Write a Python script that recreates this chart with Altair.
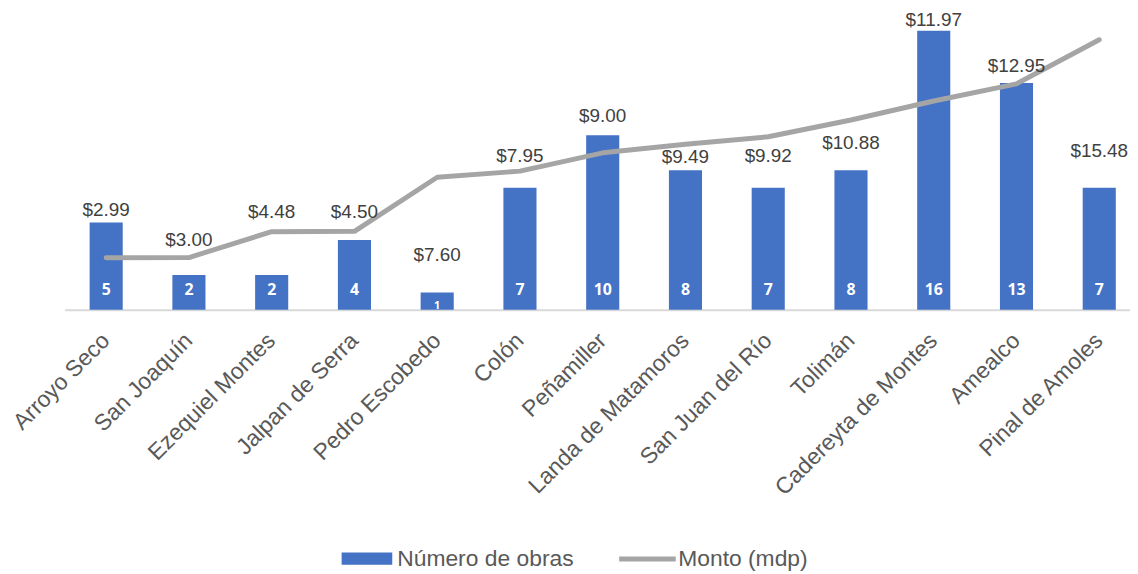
import altair as alt
import pandas as pd

municipios = ["Arroyo Seco", "San Joaquín", "Ezequiel Montes", "Jalpan de Serra",
              "Pedro Escobedo", "Colón", "Peñamiller", "Landa de Matamoros",
              "San Juan del Río", "Tolimán", "Cadereyta de Montes", "Amealco",
              "Pinal de Amoles"]
obras = [5, 2, 2, 4, 1, 7, 10, 8, 7, 8, 16, 13, 7]
monto = [2.99, 3.00, 4.48, 4.50, 7.60, 7.95, 9.00, 9.49, 9.92, 10.88, 11.97, 12.95, 15.48]
# height (in chart units) at which each amount label sits in the original
nivel_etiqueta = [5.72, 3.98, 5.61, 5.63, 3.13, 8.82, 11.10, 8.76, 8.82, 9.56, 16.6, 13.95, 9.11]

df = pd.DataFrame({
    "municipio": municipios,
    "obras": obras,
    "monto": monto,
    "nivel": nivel_etiqueta,
    "serie_b": "Número de obras",
    "serie_l": "Monto (mdp)",
})

FONT = "Liberation Sans"
x = alt.X("municipio:N", sort=municipios,
          scale=alt.Scale(paddingInner=0.6, paddingOuter=0.237, align=0.638),
          axis=alt.Axis(title=None, labelAngle=-45, labelAlign="right",
                        labelBaseline="middle", labelFontSize=23, labelFont=FONT,
                        labelColor="#595959", ticks=False, domainColor="#D9D9D9",
                        domainWidth=2, labelPadding=27, labelLimit=500))
yscale = alt.Scale(domain=[0, 16.9], nice=False, zero=True)

base = alt.Chart(df)

bars = base.mark_bar().encode(
    x=x,
    y=alt.Y("obras:Q", scale=yscale, axis=None),
    color=alt.Color("serie_b:N",
                    scale=alt.Scale(domain=["Número de obras"], range=["#4472C4"]),
                    legend=alt.Legend(orient="none", legendX=279, legendY=522,
                                      title=None, padding=0,
                                      symbolType="M-1,-0.24L1,-0.24L1,0.24L-1,0.24Z",
                                      symbolSize=2601, symbolStrokeWidth=0,
                                      symbolFillColor="#4472C4", symbolOpacity=1,
                                      labelFontSize=23, labelFont=FONT,
                                      labelColor="#595959", labelOffset=5,
                                      labelLimit=400)),
)

line = base.mark_line(strokeWidth=5, strokeCap="round", strokeJoin="round").encode(
    x=x,
    y=alt.Y("monto:Q", scale=yscale, axis=None),
    stroke=alt.Stroke("serie_l:N",
                      scale=alt.Scale(domain=["Monto (mdp)"], range=["#A5A5A5"]),
                      legend=alt.Legend(orient="none", legendX=556, legendY=517,
                                        title=None, padding=0,
                                        symbolType="stroke", symbolSize=3249,
                                        symbolStrokeWidth=5,
                                        labelFontSize=23, labelFont=FONT,
                                        labelColor="#595959", labelOffset=0,
                                        labelLimit=400)),
)

labels = base.mark_text(font=FONT, fontSize=19, color="#404040",
                        baseline="middle").encode(
    x=x,
    y=alt.Y("nivel:Q", scale=yscale, axis=None),
    text=alt.Text("monto:Q", format="$.2f"),
)

counts = base.transform_filter("datum.obras >= 2").mark_text(
    font="Open Sans", fontWeight="bold", color="white", fontSize=16,
    baseline="alphabetic", dy=-15).encode(
    x=x,
    y=alt.datum(0, scale=yscale),
    text=alt.Text("obras:Q"),
)

counts_small = base.transform_filter("datum.obras < 2").mark_text(
    font="Open Sans", fontWeight="bold", color="white", fontSize=11,
    baseline="alphabetic", dy=-1).encode(
    x=x,
    y=alt.datum(0, scale=yscale),
    text=alt.Text("obras:Q"),
)

chart = alt.layer(bars, line, labels, counts, counts_small).resolve_scale(
    color="independent"
).properties(
    width=1073, height=297,
    autosize=alt.AutoSizeParams(type="none"),
    padding={"left": 57, "top": 5, "right": 0, "bottom": 262},
).configure_view(stroke=None)

chart.save("out.html", embed_options={"renderer": "svg", "actions": False})
